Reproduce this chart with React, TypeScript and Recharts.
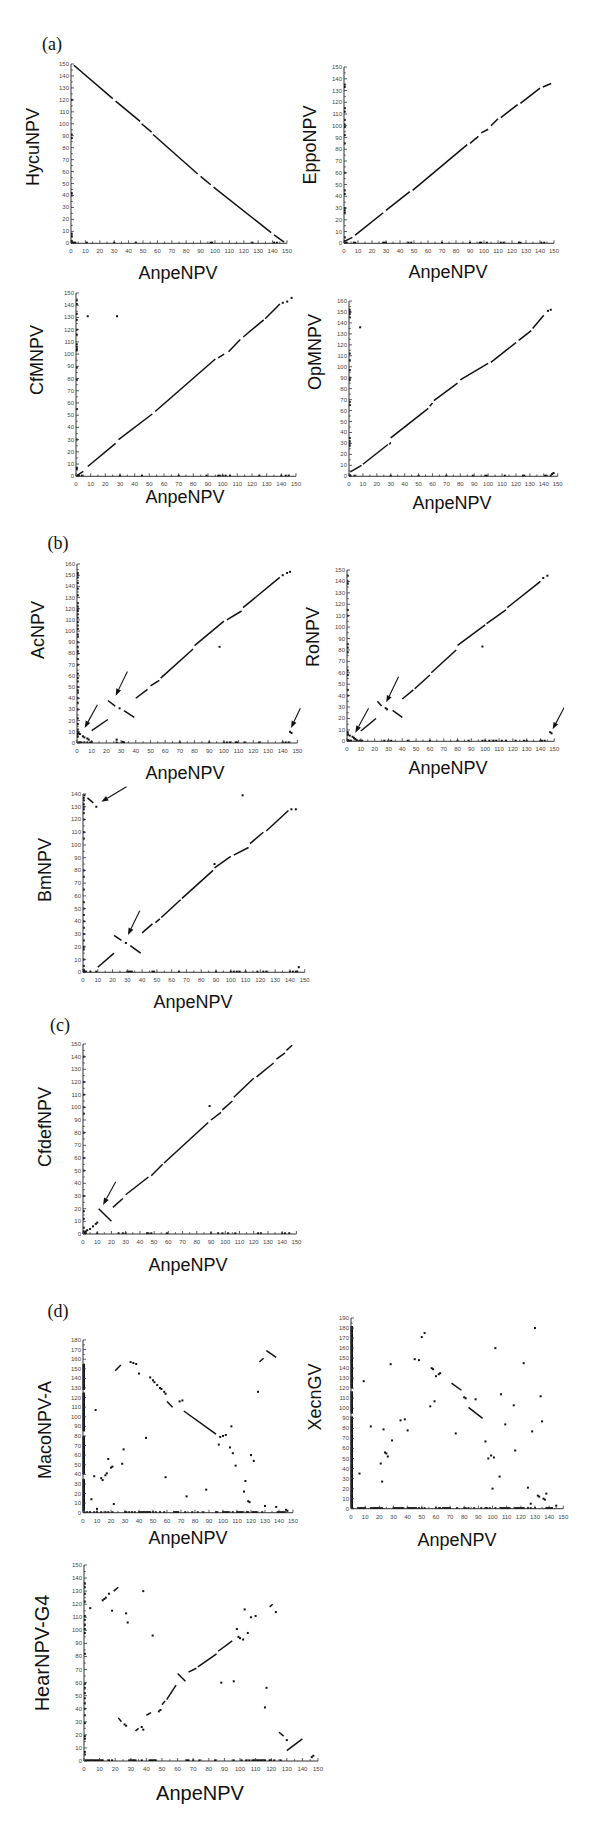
import React from 'react';
import { ScatterChart, Scatter, XAxis, YAxis, ReferenceLine } from 'recharts';

// ---------- tick values ----------
const X_TICKS = [0, 5, 10, 15, 20, 25, 30, 35, 40, 45, 50, 55, 60, 65, 70, 75, 80, 85, 90, 95, 100, 105, 110, 115, 120, 125, 130, 135, 140, 145, 150];
const Y_TICKS_140 = [0, 5, 10, 15, 20, 25, 30, 35, 40, 45, 50, 55, 60, 65, 70, 75, 80, 85, 90, 95, 100, 105, 110, 115, 120, 125, 130, 135, 140];
const Y_TICKS_150 = [0, 5, 10, 15, 20, 25, 30, 35, 40, 45, 50, 55, 60, 65, 70, 75, 80, 85, 90, 95, 100, 105, 110, 115, 120, 125, 130, 135, 140, 145, 150];
const Y_TICKS_160 = [0, 5, 10, 15, 20, 25, 30, 35, 40, 45, 50, 55, 60, 65, 70, 75, 80, 85, 90, 95, 100, 105, 110, 115, 120, 125, 130, 135, 140, 145, 150, 155, 160];
const Y_TICKS_180 = [0, 5, 10, 15, 20, 25, 30, 35, 40, 45, 50, 55, 60, 65, 70, 75, 80, 85, 90, 95, 100, 105, 110, 115, 120, 125, 130, 135, 140, 145, 150, 155, 160, 165, 170, 175, 180];
const Y_TICKS_190 = [0, 5, 10, 15, 20, 25, 30, 35, 40, 45, 50, 55, 60, 65, 70, 75, 80, 85, 90, 95, 100, 105, 110, 115, 120, 125, 130, 135, 140, 145, 150, 155, 160, 165, 170, 175, 180, 185, 190];

const AXIS_NEAR = 0.5; // data value for matches lying on the axes
const X_TITLE = 'AnpeNPV';

// ---------- HycuNPV ----------
const HYCU_SEGS = [[2, 149, 29, 121], [31, 119, 48, 102], [49, 100, 56, 93], [57, 91, 88, 58], [90, 56, 97, 49], [99, 47, 139, 9], [141, 7, 148, 1]];
const HYCU_DOTS: number[][] = [];
const HYCU_YAXIS = [120, 91, 88, 42, 40, 8, 6, 2];
const HYCU_XAXIS = [1, 2, 3, 11, 30, 45, 97, 98, 126, 141, 143];

// ---------- EppoNPV ----------
const EPPO_SEGS = [[1, 2, 6, 5], [8, 7, 28, 26], [30, 28, 47, 44], [49, 45, 88, 84], [90, 85, 96, 91], [98, 94, 103, 97], [105, 100, 110, 106], [112, 107, 124, 118], [126, 119, 140, 132], [142, 133, 148, 136]];
const EPPO_DOTS: number[][] = [];
const EPPO_YAXIS = [135, 133, 115, 112, 105, 101, 99, 92, 85, 60, 45, 42, 30, 28, 26, 5, 2];
const EPPO_XAXIS = [1, 2, 7, 8, 28, 29, 30, 46, 48, 70, 90, 97, 98, 102, 112, 114, 125, 126, 141, 143];

// ---------- CfMNPV ----------
const CFM_SEGS = [[1, 1, 5, 4], [8, 8, 27, 27], [29, 30, 52, 51], [54, 53, 95, 96], [97, 97, 101, 100], [104, 102, 112, 112], [114, 114, 128, 128], [129, 129, 139, 141]];
const CFM_DOTS = [[8, 131], [28, 131], [141, 142], [144, 143], [147, 146]];
const CFM_YAXIS = [144, 141, 133, 128, 120, 116, 108, 106, 104, 103, 89, 79, 55, 30, 7, 6];
const CFM_XAXIS = [1, 2, 4, 30, 45, 70, 89, 97, 98, 100, 102, 105, 125, 140, 143, 145];

// ---------- OpMNPV ----------
const OPM_SEGS = [[1, 4, 9, 10], [10, 11, 28, 29], [29, 29, 30, 31], [30, 35, 57, 62], [58, 64, 60, 67], [61, 69, 78, 85], [80, 88, 100, 103], [102, 104, 120, 122], [122, 124, 131, 133], [132, 135, 140, 147]];
const OPM_DOTS = [[8, 136], [143, 151], [145, 152], [146, 2], [147, 3]];
const OPM_YAXIS = [152, 150, 148, 145, 112, 106, 97, 90, 88, 68, 65, 35, 32, 30, 28, 1];
const OPM_XAXIS = [1, 4, 30, 50, 70, 89, 98, 99, 112, 125, 126, 141, 142, 145];

// ---------- AcNPV ----------
const AC_SEGS = [[10, 11, 21, 21], [21, 38, 26, 33], [32, 29, 39, 23], [40, 40, 48, 48], [50, 51, 56, 56], [57, 58, 79, 84], [80, 87, 100, 109], [102, 110, 112, 118], [113, 121, 138, 148]];
const AC_DOTS = [[1, 9], [2, 8], [4, 6], [5, 5], [7, 4], [8, 3], [10, 1], [29, 31], [97, 86], [140, 150], [143, 152], [145, 153], [145, 10], [146, 9], [27, 3], [31, 1]];
const AC_YAXIS = [152, 150, 148, 143, 138, 132, 125, 122, 120, 118, 115, 112, 108, 105, 102, 97, 95, 90, 86, 82, 80, 75, 70, 62, 58, 55, 50, 47, 45, 40, 36, 30, 22, 17, 12, 10, 8, 6];
const AC_XAXIS = [1, 2, 3, 5, 7, 9, 27, 31, 32, 70, 90, 100, 102, 104, 108, 109, 114, 124, 140, 142, 144];
const AC_ARROWS = [[13.9, 34.2, 5.2, 13.4], [34.3, 64, 26.3, 42.3], [152, 31, 145.7, 13.5]];

// ---------- RoNPV ----------
const RO_SEGS = [[10, 9, 21, 20], [22, 35, 25, 31], [33, 27, 40, 21], [40, 37, 48, 45], [49, 46, 60, 58], [61, 60, 79, 80], [80, 84, 100, 102], [101, 103, 115, 115], [116, 117, 140, 140]];
const RO_DOTS = [[0.5, 6], [2, 5], [4, 4], [5, 3], [6, 2], [7, 1], [28, 29], [29, 28], [98, 83], [142, 143], [145, 145], [147, 8], [148, 7]];
const RO_YAXIS = [145, 140, 138, 115, 110, 85, 82, 78, 62, 58, 45, 40, 8, 6, 1];
const RO_XAXIS = [1, 2, 3, 7, 9, 10, 11, 27, 30, 32, 44, 60, 80, 88, 98, 100, 103, 106, 108, 112, 115, 122, 128, 130, 140, 141, 143];
const RO_ARROWS = [[15.6, 28.9, 6, 7.5], [37.3, 56.6, 28.4, 34.1], [158.5, 32.7, 148.8, 10.5]];

// ---------- BmNPV ----------
const BM_SEGS = [[3, 137, 7, 133], [10, 4, 21, 15], [21, 29, 26, 25], [32, 21, 39, 15], [40, 31, 47, 38], [49, 39, 52, 42], [53, 43, 66, 57], [67, 58, 88, 80], [89, 82, 100, 91], [102, 92, 112, 98], [113, 101, 122, 110], [124, 111, 139, 127]];
const BM_DOTS = [[1, 139], [9, 130], [108, 139], [29, 23], [89, 85], [141, 128], [144, 128], [146, 4]];
const BM_YAXIS = [137, 135, 132, 130, 128, 125, 120, 110, 105, 80, 75, 65, 55, 50, 45, 40, 35, 30, 25, 20, 18, 10, 5, 2, 1];
const BM_XAXIS = [1, 2, 5, 9, 30, 31, 32, 33, 47, 48, 65, 90, 100, 102, 104, 106, 110, 118, 122, 124, 140, 142, 144, 145];
const BM_ARROWS = [[29.4, 145.7, 12.4, 133.9], [38.4, 48.4, 30.4, 29.3]];

// ---------- CfdefNPV ----------
const CFDEF_SEGS = [[11, 20, 20, 10], [21, 21, 28, 28], [30, 31, 46, 45], [48, 46, 56, 55], [57, 56, 88, 88], [90, 90, 97, 96], [98, 98, 105, 105], [106, 108, 120, 123], [122, 124, 134, 135], [136, 138, 142, 143], [143, 145, 147, 149]];
const CFDEF_DOTS = [[1, 1], [2, 2], [3, 3], [5, 4], [7, 6], [9, 8], [10, 9], [89, 101]];
const CFDEF_YAXIS = [140, 120, 110, 100, 95, 80, 60, 50, 30, 18, 12, 5, 2];
const CFDEF_XAXIS = [2, 10, 25, 28, 30, 45, 46, 48, 59, 90, 95, 98, 102, 107, 123, 125, 140, 142, 145];
const CFDEF_ARROWS = [[23, 41.3, 14.1, 22.9]];

// ---------- MacoNPV-A ----------
const MACO_SEGS = [[23, 148, 27, 154], [60, 116, 64, 110], [72, 106, 95, 82], [126, 157, 129, 161], [131, 169, 138, 162]];
const MACO_DOTS = [[34, 157], [36, 156], [38, 155], [40, 145], [48, 141], [50, 138], [51, 136], [53, 133], [55, 130], [56, 129], [58, 126], [59, 124], [69, 116], [71, 117], [98, 79], [100, 80], [102, 81], [106, 90], [97, 71], [105, 68], [107, 62], [109, 49], [120, 60], [122, 54], [116, 33], [115, 22], [118, 12], [119, 11], [125, 126], [130, 7], [138, 6], [145, 3], [146, 2], [45, 78], [59, 37], [74, 17], [88, 24], [9, 107], [8, 38], [6, 14], [10, 4], [13, 36], [14, 34], [16, 39], [17, 41], [18, 56], [20, 47], [21, 48], [22, 9], [28, 51], [29, 66]];
const MACO_YBANDS = [[2, 35], [40, 80], [85, 125], [128, 155]];
const MACO_XAXIS = [1, 3, 5, 8, 10, 13, 16, 18, 21, 30, 31, 33, 35, 37, 40, 41, 42, 43, 44, 45, 46, 47, 48, 50, 52, 55, 58, 65, 66, 67, 68, 73, 78, 82, 86, 95, 96, 100, 101, 102, 103, 104, 107, 110, 111, 112, 113, 114, 117, 118, 121, 122, 123, 124, 128, 139, 140, 141, 142, 143, 144];

// ---------- XecnGV ----------
const XECN_SEGS = [[71, 125, 78, 118], [83, 101, 93, 90]];
const XECN_DOTS = [[9, 127], [14, 82], [6, 35], [21, 45], [22, 27], [23, 79], [24, 56], [25, 55], [26, 52], [28, 144], [29, 68], [35, 88], [38, 89], [40, 78], [45, 149], [48, 148], [50, 171], [52, 175], [56, 102], [57, 140], [58, 139], [59, 107], [60, 132], [62, 134], [63, 135], [74, 75], [80, 111], [81, 110], [88, 109], [95, 67], [97, 50], [99, 53], [101, 51], [100, 20], [102, 160], [105, 32], [106, 114], [109, 84], [115, 103], [116, 58], [122, 145], [125, 21], [127, 5], [128, 77], [130, 180], [132, 13], [133, 12], [134, 112], [135, 87], [136, 10], [137, 9], [138, 15], [145, 3]];
const XECN_YBANDS = [[1, 92], [95, 117], [120, 182]];
const XECN_XAXIS = [1, 5, 6, 7, 8, 9, 10, 14, 15, 16, 17, 18, 19, 20, 21, 22, 30, 31, 32, 33, 34, 35, 36, 37, 40, 41, 42, 43, 44, 45, 46, 48, 50, 52, 60, 62, 63, 65, 66, 67, 68, 69, 70, 75, 80, 81, 83, 87, 92, 95, 96, 98, 102, 106, 107, 108, 109, 110, 111, 112, 116, 117, 118, 119, 120, 121, 122, 125, 127, 130, 138, 139, 140, 141, 142];

// ---------- HearNPV-G4 ----------
const HEAR_SEGS = [[19, 130, 22, 133], [22, 33, 24, 30], [33, 23, 35, 25], [40, 35, 43, 37], [50, 43, 52, 46], [53, 47, 59, 58], [60, 67, 65, 61], [67, 68, 72, 71], [73, 72, 85, 82], [86, 84, 95, 92], [119, 118, 121, 120], [125, 22, 128, 19], [130, 8, 140, 17]];
const HEAR_DOTS = [[4, 117], [12, 123], [13, 124], [14, 125], [16, 128], [18, 115], [27, 113], [28, 106], [38, 130], [44, 96], [26, 28], [27, 27], [37, 26], [38, 24], [48, 38], [49, 39], [98, 101], [99, 95], [100, 94], [102, 93], [103, 116], [105, 98], [107, 110], [110, 111], [123, 114], [88, 60], [96, 61], [117, 56], [116, 41], [130, 16], [146, 3], [147, 4]];
const HEAR_YAXIS = [136, 133, 128, 122, 111, 108, 104, 101, 98, 82, 59, 56, 52, 48, 44, 40, 35, 29, 19, 17, 7, 5];
const HEAR_XAXIS = [1, 2, 3, 4, 5, 6, 7, 8, 9, 10, 11, 12, 16, 18, 29, 30, 31, 32, 33, 37, 42, 43, 44, 45, 46, 66, 67, 70, 74, 84, 96, 101, 104, 106, 108, 109, 110, 111, 112, 113, 114, 115, 116, 119, 120, 122, 126];

// ---------- rendering helpers ----------
const FONT = '"Liberation Sans", Arial, sans-serif';
const INK = '#111';

const XTick = (p: any) => {
  const v = p.payload.value;
  const major = v % 10 === 0;
  return (
    <g>
      <line x1={p.x} y1={p.y} x2={p.x} y2={p.y - (major ? 3 : 1.8)} stroke="#333" strokeWidth={0.8} />
      {major && (
        <text x={p.x} y={p.y + 10} textAnchor="middle" fontSize={6} fill="#444" fontFamily={FONT}>{v}</text>
      )}
    </g>
  );
};

const YTick = (p: any) => {
  const v = p.payload.value;
  const major = v % 10 === 0;
  return (
    <g>
      <line x1={p.x} y1={p.y} x2={p.x + (major ? 3 : 1.8)} y2={p.y} stroke="#333" strokeWidth={0.8} />
      {major && (
        <text x={p.x - 2} y={p.y + 2} textAnchor="end" fontSize={6} fill="#444" fontFamily={FONT}>{v}</text>
      )}
    </g>
  );
};

const DotShape = (p: any) => <rect x={p.cx - 1} y={p.cy - 1} width={2} height={2} fill={INK} />;

const ArrowShape = (p: any) => {
  const { x1, y1, x2, y2 } = p;
  const ang = Math.atan2(y2 - y1, x2 - x1);
  const L = 7;
  const W = 2.6;
  const bx = x2 - L * Math.cos(ang);
  const by = y2 - L * Math.sin(ang);
  const px = -Math.sin(ang) * W;
  const py = Math.cos(ang) * W;
  return (
    <g>
      <line x1={x1} y1={y1} x2={bx} y2={by} stroke={INK} strokeWidth={1.1} />
      <polygon points={`${x2},${y2} ${bx + px},${by + py} ${bx - px},${by - py}`} fill={INK} />
    </g>
  );
};

type PlotData = {
  yMax: number;
  yTicks: number[];
  segs: number[][];
  dots: number[][];
  yAxis?: number[];
  xAxis: number[];
  yBands?: number[][];
  arrows?: number[][];
  yTitle: string;
};

type Layout = {
  px: number; py: number; pw: number; ph: number;
  xt: [number, number]; yt: [number, number]; fs: number;
};

function DotPlot({ d, l }: { d: PlotData; l: Layout }) {
  const W = l.pw + 40;
  const H = l.ph + 30;
  const pts = [
    ...d.dots.map(([x, y]) => ({ x, y })),
    ...(d.yAxis || []).map((y) => ({ x: AXIS_NEAR, y })),
    ...d.xAxis.map((x) => ({ x, y: AXIS_NEAR })),
  ];
  return (
    <>
      <div style={{ position: 'absolute', left: l.px - 30, top: l.py - 10, width: W, height: H }}>
        <ScatterChart width={W} height={H} margin={{ top: 10, right: 10, bottom: 0, left: 0 }}>
          <XAxis
            type="number" dataKey="x" domain={[0, 150]} ticks={X_TICKS} interval={0}
            tickSize={0} tickMargin={0} tickLine={false} tick={(p: any) => <XTick {...p} />}
            height={20} axisLine={{ stroke: '#333', strokeWidth: 1 }} allowDataOverflow
          />
          <YAxis
            type="number" dataKey="y" domain={[0, d.yMax]} ticks={d.yTicks} interval={0}
            tickSize={0} tickMargin={0} tickLine={false} tick={(p: any) => <YTick {...p} />}
            width={30} axisLine={{ stroke: '#333', strokeWidth: 1 }} allowDataOverflow
          />
          {(d.yBands || []).map(([a, b], i) => (
            <ReferenceLine key={'b' + i} segment={[{ x: AXIS_NEAR, y: a }, { x: AXIS_NEAR, y: b }]} stroke={INK} strokeWidth={2.6} ifOverflow="visible" />
          ))}
          {d.segs.map(([x1, y1, x2, y2], i) => (
            <ReferenceLine key={'s' + i} segment={[{ x: x1, y: y1 }, { x: x2, y: y2 }]} stroke={INK} strokeWidth={1.5} ifOverflow="visible" />
          ))}
          <Scatter data={pts} shape={DotShape} isAnimationActive={false} />
          {(d.arrows || []).map(([x1, y1, x2, y2], i) => (
            <ReferenceLine key={'a' + i} segment={[{ x: x1, y: y1 }, { x: x2, y: y2 }]} ifOverflow="visible" shape={ArrowShape} />
          ))}
        </ScatterChart>
      </div>
      <div style={{ position: 'absolute', left: l.xt[0], top: l.xt[1], transform: 'translate(-50%, -50%)', fontFamily: FONT, fontSize: l.fs, lineHeight: 1, whiteSpace: 'nowrap', color: INK }}>
        {X_TITLE}
      </div>
      <div style={{ position: 'absolute', left: l.yt[0], top: l.yt[1], transform: 'translate(-50%, -50%) rotate(-90deg)', fontFamily: FONT, fontSize: l.fs, lineHeight: 1, whiteSpace: 'nowrap', color: INK }}>
        {d.yTitle}
      </div>
    </>
  );
}

const PLOTS: { d: PlotData; l: Layout }[] = [
  { d: { yMax: 150, yTicks: Y_TICKS_150, segs: HYCU_SEGS, dots: HYCU_DOTS, yAxis: HYCU_YAXIS, xAxis: HYCU_XAXIS, yTitle: 'HycuNPV' },
    l: { px: 70.7, py: 64, pw: 216, ph: 179.3, xt: [178, 273], yt: [33, 147], fs: 18 } },
  { d: { yMax: 150, yTicks: Y_TICKS_150, segs: EPPO_SEGS, dots: EPPO_DOTS, yAxis: EPPO_YAXIS, xAxis: EPPO_XAXIS, yTitle: 'EppoNPV' },
    l: { px: 344, py: 66.7, pw: 210, ph: 176.3, xt: [448, 272], yt: [310, 145], fs: 18 } },
  { d: { yMax: 150, yTicks: Y_TICKS_150, segs: CFM_SEGS, dots: CFM_DOTS, yAxis: CFM_YAXIS, xAxis: CFM_XAXIS, yTitle: 'CfMNPV' },
    l: { px: 76, py: 292.7, pw: 220, ph: 183.3, xt: [185, 497], yt: [37, 360], fs: 18 } },
  { d: { yMax: 160, yTicks: Y_TICKS_160, segs: OPM_SEGS, dots: OPM_DOTS, yAxis: OPM_YAXIS, xAxis: OPM_XAXIS, yTitle: 'OpMNPV' },
    l: { px: 349, py: 300.7, pw: 208.7, ph: 175.3, xt: [452, 503], yt: [315, 352], fs: 18 } },
  { d: { yMax: 160, yTicks: Y_TICKS_160, segs: AC_SEGS, dots: AC_DOTS, yAxis: AC_YAXIS, xAxis: AC_XAXIS, arrows: AC_ARROWS, yTitle: 'AcNPV' },
    l: { px: 77.3, py: 564.3, pw: 220.4, ph: 179, xt: [185, 773], yt: [38, 630], fs: 18 } },
  { d: { yMax: 150, yTicks: Y_TICKS_150, segs: RO_SEGS, dots: RO_DOTS, yAxis: RO_YAXIS, xAxis: RO_XAXIS, arrows: RO_ARROWS, yTitle: 'RoNPV' },
    l: { px: 346.7, py: 570, pw: 207.3, ph: 171.3, xt: [448, 768], yt: [313, 637], fs: 18 } },
  { d: { yMax: 140, yTicks: Y_TICKS_140, segs: BM_SEGS, dots: BM_DOTS, yAxis: BM_YAXIS, xAxis: BM_XAXIS, arrows: BM_ARROWS, yTitle: 'BmNPV' },
    l: { px: 83.3, py: 794, pw: 221.7, ph: 178.3, xt: [193, 1002], yt: [45, 870], fs: 18 } },
  { d: { yMax: 150, yTicks: Y_TICKS_150, segs: CFDEF_SEGS, dots: CFDEF_DOTS, yAxis: CFDEF_YAXIS, xAxis: CFDEF_XAXIS, arrows: CFDEF_ARROWS, yTitle: 'CfdefNPV' },
    l: { px: 83.3, py: 1044, pw: 213.4, ph: 190, xt: [188, 1265], yt: [45, 1127], fs: 18 } },
  { d: { yMax: 180, yTicks: Y_TICKS_180, segs: MACO_SEGS, dots: MACO_DOTS, yBands: MACO_YBANDS, xAxis: MACO_XAXIS, yTitle: 'MacoNPV-A' },
    l: { px: 83.3, py: 1340, pw: 210, ph: 172.7, xt: [188, 1538], yt: [45, 1430], fs: 18 } },
  { d: { yMax: 190, yTicks: Y_TICKS_190, segs: XECN_SEGS, dots: XECN_DOTS, yBands: XECN_YBANDS, xAxis: XECN_XAXIS, yTitle: 'XecnGV' },
    l: { px: 351, py: 1318.3, pw: 212.3, ph: 190.7, xt: [457, 1540], yt: [315, 1397], fs: 18 } },
  { d: { yMax: 150, yTicks: Y_TICKS_150, segs: HEAR_SEGS, dots: HEAR_DOTS, yAxis: HEAR_YAXIS, xAxis: HEAR_XAXIS, yTitle: 'HearNPV-G4' },
    l: { px: 84.3, py: 1565, pw: 234, ph: 196, xt: [200, 1793], yt: [42, 1653], fs: 20 } },
];

const PANEL_LABELS = ['(a)', '(b)', '(c)', '(d)'];
const PANEL_POS = [[52, 44], [58, 543], [60, 1025], [58, 1311]];

export default function App() {
  return (
    <div style={{ position: 'absolute', left: 0, top: 0, width: 600, height: 1828, background: '#fff', overflow: 'hidden' }}>
      {PLOTS.map((p, i) => (
        <DotPlot key={i} d={p.d} l={p.l} />
      ))}
      {PANEL_LABELS.map((t, i) => (
        <div key={t} style={{ position: 'absolute', left: PANEL_POS[i][0], top: PANEL_POS[i][1], transform: 'translate(-50%, -50%)', fontFamily: '"Liberation Serif", "Times New Roman", serif', fontSize: 18, lineHeight: 1, color: INK }}>
          {t}
        </div>
      ))}
    </div>
  );
}
